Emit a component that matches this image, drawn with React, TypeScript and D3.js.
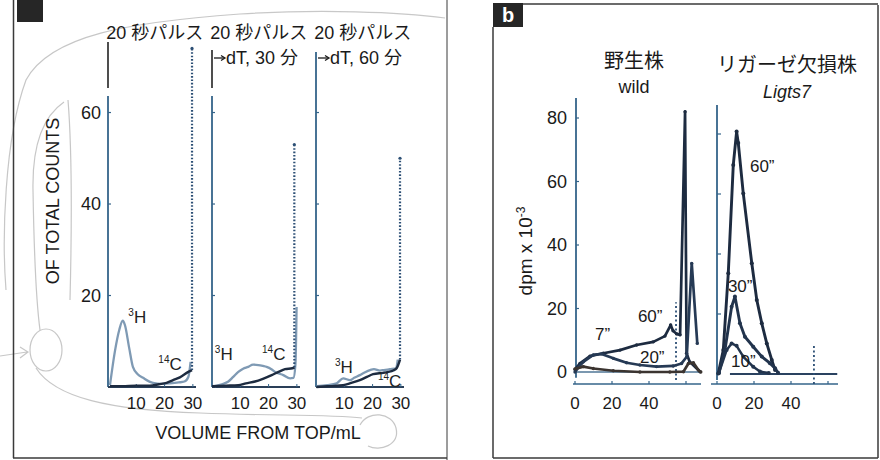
import React from "react";
import * as d3 from "d3";

const FONT = "'Liberation Sans', Arial, 'Noto Sans CJK JP', sans-serif";
const W = 880;
const H = 460;

// ---------- Panel a data ----------
const aTitle1 = ["20 秒パルス", "20 秒パルス", "20 秒パルス"];
const aTitle2 = ["", "dT, 30 分", "dT, 60 分"];
const aYTicks = [20, 40, 60];
const aXTicks = [10, 20, 30];

const h1X = [0.7, 2.5, 4, 5.2, 6, 7.5, 8.8, 10.5, 12.4, 15.9, 19, 21.9, 25, 27, 28.4, 29.2];
const h1Y = [0.4, 8, 12.5, 14.5, 13.5, 8.5, 4.4, 2.8, 2, 0.9, 0.7, 0.8, 1, 1.2, 2.2, 5.5];
const c1X = [0.7, 5, 10, 14.8, 18, 20.7, 23, 25.4, 28.4, 29.7];
const c1Y = [0.2, 0.2, 0.3, 0.3, 0.6, 0.9, 1.5, 2.1, 3.3, 3.7];

const h2X = [1, 3.5, 5.8, 7.5, 9.3, 11, 12.8, 14.5, 16.4, 18, 19.3, 21, 22.3, 25.2, 27.6, 28.8, 29.5, 29.9];
const h2Y = [0.2, 0.6, 1.2, 2.2, 3.3, 4, 4.4, 4.9, 4.8, 4.6, 4.4, 3.9, 3.3, 2.6, 1.9, 2.0, 5, 17.5];
const c2X = [0, 5, 9.3, 12, 15.2, 18, 21.1, 23.5, 25.8, 28.4, 29.1];
const c2Y = [0.2, 0.3, 0.4, 0.8, 1.2, 1.8, 2.6, 3.3, 3.9, 4.1, 4.3];

const h3X = [0.2, 4, 7.3, 9.6, 12, 13.5, 15.5, 17, 19.1, 20.5, 22.6, 24, 26.1, 28.3, 28.9];
const h3Y = [0.2, 0.4, 0.8, 1.9, 1.5, 2.0, 2.6, 3.1, 3.7, 3.9, 3.6, 3.7, 3.9, 4.1, 6];
const c3X = [0.2, 5, 9.6, 12.5, 15.5, 18, 20.2, 23.8, 25.5, 27.3, 28.5, 29.7];
const c3Y = [0, 0.2, 0.4, 0.9, 1.5, 2.2, 2.8, 3.1, 3.3, 3.6, 4.1, 6];

const peakX = [29.7, 29.1, 29.7];
const peakY = [74, 53, 50];

// ---------- Panel b data ----------
const bYTicks = [0, 20, 40, 60, 80];
const bXTickLabels = [0, 20, 40];
const bXTicks = [0, 20, 40, 60];

const w60X = [0, 2.7, 8.1, 15.3, 24.3, 33.3, 42.3, 48.6, 51.7, 53, 55, 56.8, 59.5, 60.3, 62, 67.6];
const w60Y = [0.8, 2.7, 5, 5.9, 6.9, 8.5, 9.5, 11.3, 14.8, 13, 12, 11.7, 82, 5.9, 3.2, 0.1];
const w20X = [0, 2, 4.5, 9.9, 14.4, 20.7, 27.9, 35.1, 44.1, 53.1, 57.6, 60.4, 63.1, 66.1];
const w20Y = [0, 1.5, 3.2, 5.4, 5.7, 4.3, 2.9, 2.2, 1.7, 1.9, 2.7, 4.8, 34.2, 9];
const w7X = [0, 4.5, 9.9, 20.7, 35.1, 51.3, 58.6, 61.3, 64, 66.7, 68];
const w7Y = [1, 1.7, 1.1, 0.4, 0, 0, 0.1, 2.7, 2.9, 0.6, 0];

const m60X = [0.7, 3.4, 6.1, 8.8, 10.6, 11.5, 14.2, 18.8, 21.5, 24.2, 26.9, 29.6, 31.4];
const m60Y = [0.2, 8, 33.6, 69.7, 80.8, 77, 60.2, 36.9, 24.7, 16.9, 10.2, 4.7, 1.3];
const m30X = [1, 4.3, 7.9, 9.7, 12.4, 15.1, 19.6, 24.2, 28.6, 31.4, 33];
const m30Y = [0.3, 8, 22.4, 25.8, 16.9, 12.4, 9.1, 5.8, 3.6, 1.9, 0.4];
const m10X = [1, 5.2, 7.9, 10.6, 14.2, 19.6, 23.2, 28];
const m10Y = [0.3, 8, 10.2, 9.4, 5.8, 2.4, 0.8, 0.3];

const zip = (xs: number[], ys: number[]) => xs.map((x, i) => [x, ys[i]] as [number, number]);

const NAVY = "#1d2b40";
const LIGHT = "#7f9ab4";
const AXIS = "#35648a";
const PENCIL = "#b0b0b0";

function Sup({ x, y, sup, base, anchor = "start" }: any) {
  return (
    <text x={x} y={y} fontSize={17} fontFamily={FONT} fill="#222" textAnchor={anchor}>
      <tspan fontSize={10} dy={-7}>{sup}</tspan>
      <tspan dy={7}>{base}</tspan>
    </text>
  );
}

export default function App() {
  // Panel a scales
  const aLeft = [108, 212, 316];
  const aY = d3.scaleLinear().domain([0, 75]).range([387, 43.9]);
  const aXs = aLeft.map((l) => d3.scaleLinear().domain([0, 31]).range([l, l + 87.7]));
  const hSeries = [zip(h1X, h1Y), zip(h2X, h2Y), zip(h3X, h3Y)];
  const cSeries = [zip(c1X, c1Y), zip(c2X, c2Y), zip(c3X, c3Y)];

  // Panel b scales
  const wX = d3.scaleLinear().domain([0, 68]).range([575, 700.8]);
  const wY = d3.scaleLinear().domain([0, 80]).range([372, 118]);
  const mX = d3.scaleLinear().domain([0, 65]).range([717, 837.25]);
  const mY = d3.scaleLinear().domain([0, 80]).range([374, 134]);

  const lineFor = (xs: any, ys: any, curve: any = d3.curveLinear) =>
    d3.line<[number, number]>().x((d) => xs(d[0])).y((d) => ys(d[1])).curve(curve);

  const wild = [
    { d: zip(w60X, w60Y), w: 2.7, c: NAVY },
    { d: zip(w20X, w20Y), w: 2.7, c: "#263a55" },
    { d: zip(w7X, w7Y), w: 2.7, c: "#3b3430" },
  ];
  const mut = [
    { d: zip(m60X, m60Y), w: 2.9, c: NAVY },
    { d: zip(m30X, m30Y), w: 2.9, c: "#22344d" },
    { d: zip(m10X, m10Y), w: 2.5, c: "#22344d" },
  ];
  const wl = lineFor(wX, wY);
  const ml = lineFor(mX, mY);

  return (
    <svg width={W} height={H} style={{ position: "absolute", left: 0, top: 0, background: "#fff" }} fontFamily={FONT}>
      <rect x={0} y={0} width={W} height={H} fill="#fff" />

      {/* pencil annotations */}
      <g fill="none" stroke={PENCIL} strokeWidth={1.2} opacity={0.7}>
        <path d="M 6 290 C 2 240, 4 140, 26 80 C 50 35, 130 22, 240 14 C 320 9, 400 12, 445 18" />
        <path d="M 64 102 C 45 115, 32 140, 33 190 C 34 250, 36 300, 40 330" />
        <path d="M 68 100 C 72 150, 72 220, 70 300" />
        <ellipse cx={46} cy={350} rx={16} ry={21} />
        <path d="M 0 356 L 27 352 M 20 347 L 28 352 L 20 358" />
        <path d="M 36 368 C 55 398, 110 410, 200 413 C 270 416, 330 414, 362 418" />
        <path d="M 360 425 C 368 410, 392 412, 396 428 C 400 445, 380 452, 368 446" />
      </g>

      {/* panel frames */}
      <g stroke="#3a3a3a" strokeWidth={1.5} fill="none">
        <line x1={13.5} y1={0} x2={13.5} y2={458} />
        <line x1={13} y1={458} x2={447} y2={458} />
        <line x1={447} y1={0} x2={447} y2={460} strokeWidth={1} />
        <line x1={493} y1={27} x2={493} y2={458} />
        <line x1={493} y1={458} x2={878} y2={458} />
        <line x1={878} y1={5} x2={878} y2={458} />
        <line x1={523} y1={4} x2={878} y2={4} />
      </g>
      <rect x={17} y={0} width={26} height={22} fill="#262626" />
      <rect x={493} y={3} width={30} height={24} fill="#262626" />
      <text x={508} y={22} fontSize={20} fontWeight="bold" fill="#fff" textAnchor="middle">b</text>

      {/* ---------- Panel a ---------- */}
      {aXs.map((xs, i) => {
        const l = aLeft[i];
        const cs = cSeries[i];
        const last = cs[cs.length - 1];
        return (
          <g key={i}>
            <text x={xs(16.5)} y={39} fontSize={18} textAnchor="middle" fill="#1a1a1a">{aTitle1[i]}</text>
            {aTitle2[i] && (
              <g>
                <line x1={l + 2} x2={l + 12} y1={58} y2={58} stroke="#1a1a1a" strokeWidth={1.3} />
                <path d={`M ${l + 9} 55.5 L ${l + 13} 58 L ${l + 9} 60.5`} fill="none" stroke="#1a1a1a" strokeWidth={1.3} />
                <text x={l + 14} y={64} fontSize={18} fill="#1a1a1a">{aTitle2[i]}</text>
              </g>
            )}
            {/* y axis */}
            {i < 2 ? (
              <>
                <line x1={l} x2={l} y1={i === 0 ? 42 : 50} y2={88} stroke="#222" strokeWidth={1.6} />
                <line x1={l} x2={l} y1={96} y2={aY(0)} stroke={AXIS} strokeWidth={1.8} />
              </>
            ) : (
              <line x1={l} x2={l} y1={52} y2={aY(0)} stroke={AXIS} strokeWidth={1.8} />
            )}
            {aYTicks.map((t) => (
              <line key={t} x1={l} x2={l + 3} y1={aY(t)} y2={aY(t)} stroke={AXIS} strokeWidth={1.2} />
            ))}
            {/* x axis */}
            <line x1={l} x2={l + 88} y1={aY(0)} y2={aY(0)} stroke="#2a3f58" strokeWidth={1.8} />
            {aXTicks.map((t) => (
              <g key={t}>
                <line x1={xs(t)} x2={xs(t)} y1={aY(0)} y2={aY(0) - 3} stroke={AXIS} strokeWidth={1} />
                <text x={xs(t)} y={409} fontSize={17} textAnchor="middle" fill="#1a1a1a">{t}</text>
              </g>
            ))}
            {/* curves */}
            <path d={lineFor(xs, aY, d3.curveMonotoneX)(hSeries[i]) || ""} fill="none" stroke={LIGHT} strokeWidth={2.3} />
            <path d={lineFor(xs, aY, d3.curveMonotoneX)(cs) || ""} fill="none" stroke={NAVY} strokeWidth={2.4} />
            <line
              x1={xs(peakX[i])} x2={xs(peakX[i])}
              y1={aY(last[1])} y2={aY(peakY[i])}
              stroke="#2c4f75" strokeWidth={2.2} strokeDasharray="1.6 1.8"
            />
            <circle cx={xs(peakX[i])} cy={aY(peakY[i])} r={1.6} fill="#2c4f75" />
          </g>
        );
      })}
      <Sup x={aXs[0](7.2)} y={aY(14)} sup="3" base="H" />
      <Sup x={aXs[0](17.8)} y={aY(3.7)} sup="14" base="C" />
      <Sup x={aXs[1](1)} y={aY(5.9)} sup="3" base="H" />
      <Sup x={aXs[1](17.7)} y={aY(5.9)} sup="14" base="C" />
      <Sup x={aXs[2](6.7)} y={aY(3.1)} sup="3" base="H" />
      <Sup x={aXs[2](21.9)} y={aY(0)} sup="14" base="C" />
      {aYTicks.map((t) => (
        <text key={t} x={101} y={aY(t)} dy="0.36em" fontSize={18} textAnchor="end" fill="#1a1a1a">{t}</text>
      ))}
      <text transform="translate(59,201) rotate(-90)" fontSize={18} textAnchor="middle" fill="#1a1a1a">OF TOTAL COUNTS</text>
      <text x={258} y={439} fontSize={18} textAnchor="middle" fill="#1a1a1a">VOLUME FROM TOP/mL</text>

      {/* ---------- Panel b ---------- */}
      <text x={634} y={68} fontSize={20} textAnchor="middle" fill="#1a1a1a">野生株</text>
      <text x={634} y={93} fontSize={18} textAnchor="middle" fill="#1a1a1a">wild</text>
      <text x={787} y={72} fontSize={20} textAnchor="middle" fill="#1a1a1a">リガーゼ欠損株</text>
      <text x={787} y={98} fontSize={18} textAnchor="middle" fontStyle="italic" fill="#1a1a1a">Ligts7</text>

      <text transform="translate(532,251) rotate(-90)" fontSize={19} textAnchor="middle" fill="#1a1a1a">
        dpm x 10<tspan fontSize={12} dy={-7}>-3</tspan>
      </text>
      {bYTicks.map((t) => (
        <text key={t} x={567} y={wY(t)} dy="0.36em" fontSize={18} textAnchor="end" fill="#1a1a1a">{t}</text>
      ))}

      {/* axes */}
      <line x1={wX(0) + 1} x2={wX(0) + 1} y1={wY(-1.8)} y2={98} stroke={AXIS} strokeWidth={1.8} />
      <line x1={mX(0)} x2={mX(0)} y1={mY(-2)} y2={105} stroke={AXIS} strokeWidth={1.8} />
      {[20, 40, 60, 80].map((t) => (
        <g key={t}>
          <line x1={wX(0) + 1} x2={wX(0) + 4} y1={wY(t)} y2={wY(t)} stroke={AXIS} strokeWidth={1.2} />
          <line x1={mX(0)} x2={mX(0) + 4} y1={mY(t)} y2={mY(t)} stroke={AXIS} strokeWidth={1.2} />
        </g>
      ))}
      <line x1={573} x2={701} y1={384} y2={384} stroke={AXIS} strokeWidth={1.7} />
      <line x1={711} x2={838} y1={384} y2={384} stroke={AXIS} strokeWidth={1.7} />
      {bXTicks.map((t) => (
        <g key={t}>
          <line x1={wX(t)} x2={wX(t)} y1={384} y2={381} stroke={AXIS} strokeWidth={1.2} />
          <line x1={mX(t)} x2={mX(t)} y1={384} y2={381} stroke={AXIS} strokeWidth={1.2} />
        </g>
      ))}
      {bXTickLabels.map((t) => (
        <g key={t}>
          <text x={wX(t)} y={409} fontSize={17} textAnchor="middle" fill="#1a1a1a">{t}</text>
          <text x={mX(t)} y={409} fontSize={17} textAnchor="middle" fill="#1a1a1a">{t}</text>
        </g>
      ))}

      {/* zero lines */}
      <line x1={wX(0)} x2={wX(68)} y1={wY(0)} y2={wY(0)} stroke="#4f7696" strokeWidth={1.3} />
      <line x1={mX(7)} x2={mX(65)} y1={mY(0)} y2={mY(0)} stroke="#2a4260" strokeWidth={2} />

      {/* dotted verticals */}
      <line x1={wX(54.6)} x2={wX(54.6)} y1={wY(-2.5)} y2={wY(22)} stroke="#2c4f75" strokeWidth={1.8} strokeDasharray="2 2.5" />
      <line x1={mX(52.4)} x2={mX(52.4)} y1={mY(-3.3)} y2={mY(9.7)} stroke="#2c4f75" strokeWidth={1.8} strokeDasharray="2 2.5" />

      {/* curves */}
      {wild.map((s, i) => (
        <g key={i}>
          <path d={wl(s.d) || ""} fill="none" stroke={s.c} strokeWidth={s.w} strokeLinejoin="round" />
          {s.d.map((p, j) => (
            <circle key={j} cx={wX(p[0])} cy={wY(p[1])} r={1.7} fill={s.c} />
          ))}
        </g>
      ))}
      {mut.map((s, i) => (
        <g key={i}>
          <path d={ml(s.d) || ""} fill="none" stroke={s.c} strokeWidth={s.w} strokeLinejoin="round" />
          {s.d.map((p, j) => (
            <circle key={j} cx={mX(p[0])} cy={mY(p[1])} r={2} fill={s.c} />
          ))}
        </g>
      ))}

      {/* curve labels */}
      <g fontSize={17} fill="#1a1a1a">
        <text x={wX(10.8)} y={wY(10)}>7”</text>
        <text x={wX(34)} y={wY(15.7)}>60”</text>
        <text x={wX(35.1)} y={wY(2.8)}>20”</text>
        <text x={mX(17.8)} y={mY(67.3)}>60”</text>
        <text x={mX(5.9)} y={mY(27.3)}>30”</text>
        <text x={mX(7.6)} y={mY(2.3)}>10”</text>
      </g>
    </svg>
  );
}
